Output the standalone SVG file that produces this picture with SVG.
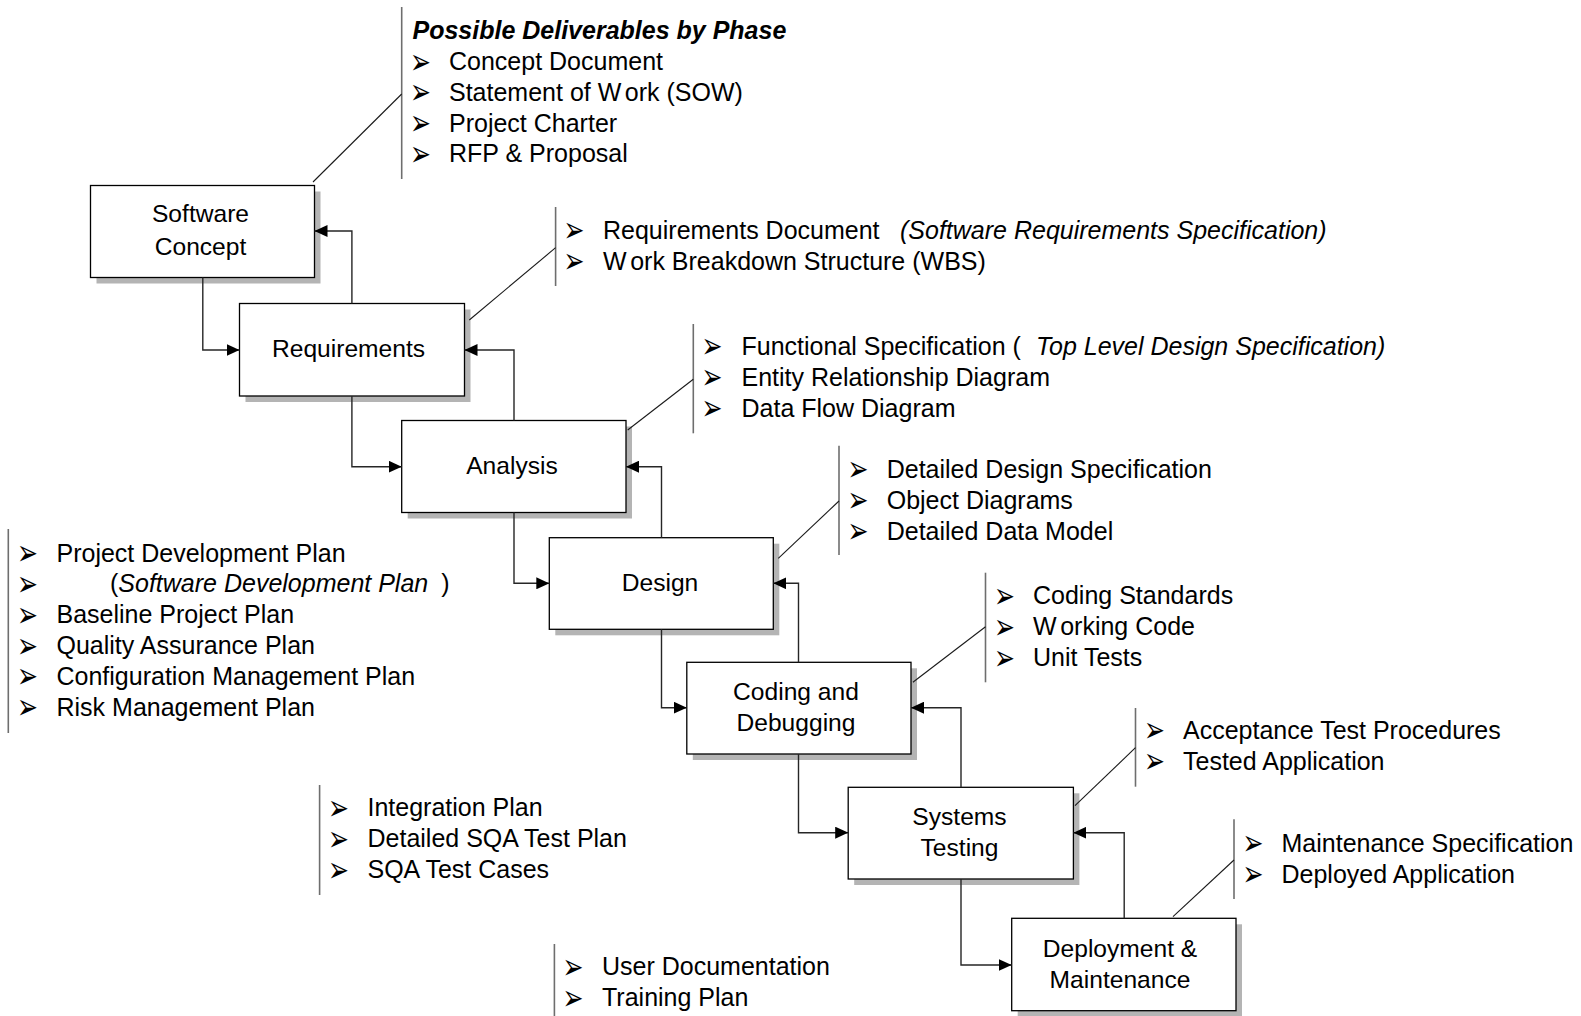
<svg xmlns="http://www.w3.org/2000/svg" width="1581" height="1016" viewBox="0 0 1581 1016">
  <style>
    .shadow { fill: #b4b4b4; }
    .box { fill: #ffffff; stroke: #000000; stroke-width: 1.3; }
    .lbl { font-family: "Liberation Sans", Arial, sans-serif; font-size: 24.6px; text-anchor: middle; fill: #000; }
    .item { font-family: "Liberation Sans", Arial, sans-serif; font-size: 25px; fill: #000; }
    .it { font-style: italic; }
    .head { font-weight: bold; font-style: italic; }
    .bul { font-family: "DejaVu Sans", sans-serif; font-size: 25px; fill: #000; }
    .bar { stroke: #6e6e6e; stroke-width: 1.6; fill: none; }
    .lead { stroke: #1a1a1a; stroke-width: 1.1; fill: none; }
    .conn { fill: none; stroke: #262626; stroke-width: 1.4; marker-end: url(#ah); }
  </style>
  <defs>
    <marker id="ah" markerUnits="userSpaceOnUse" viewBox="0 0 13 12" refX="13" refY="6" markerWidth="13" markerHeight="12" orient="auto">
      <path d="M0,0 L13,6 L0,12 Z" fill="#000"/>
    </marker>
    <!-- bullet glyph, stretched a little taller than the font draws it -->
    <text id="b" class="bul" transform="translate(0,3.6) scale(1,1.45)">➢</text>
  </defs>

  <rect width="1581" height="1016" fill="#ffffff"/>

  <!-- phase boxes -->
  <g id="software-concept">
    <rect class="shadow" x="96.5" y="191.5" width="224" height="92"/>
    <rect class="box" x="90.5" y="185.5" width="224" height="92"/>
    <text class="lbl" x="200.5" y="222">Software</text>
    <text class="lbl" x="200.5" y="255">Concept</text>
  </g>
  <g id="requirements">
    <rect class="shadow" x="245.5" y="309.5" width="225" height="92.5"/>
    <rect class="box" x="239.5" y="303.5" width="225" height="92.5"/>
    <text class="lbl" x="348.5" y="357">Requirements</text>
  </g>
  <g id="analysis">
    <rect class="shadow" x="407.7" y="426.5" width="224.3" height="92"/>
    <rect class="box" x="401.7" y="420.5" width="224.3" height="92"/>
    <text class="lbl" x="512" y="474">Analysis</text>
  </g>
  <g id="design">
    <rect class="shadow" x="555.3" y="543.7" width="224" height="91.6"/>
    <rect class="box" x="549.3" y="537.7" width="224" height="91.6"/>
    <text class="lbl" x="660" y="591">Design</text>
  </g>
  <g id="coding">
    <rect class="shadow" x="692.8" y="668.3" width="224.2" height="91.7"/>
    <rect class="box" x="686.8" y="662.3" width="224.2" height="91.7"/>
    <text class="lbl" x="796" y="700">Coding and</text>
    <text class="lbl" x="796" y="731">Debugging</text>
  </g>
  <g id="systems-testing">
    <rect class="shadow" x="854.2" y="793.3" width="225.2" height="91.7"/>
    <rect class="box" x="848.2" y="787.3" width="225.2" height="91.7"/>
    <text class="lbl" x="959.5" y="824.5">Systems</text>
    <text class="lbl" x="959.5" y="855.5">Testing</text>
  </g>
  <g id="deployment">
    <rect class="shadow" x="1017.7" y="924.3" width="224.3" height="92.4"/>
    <rect class="box" x="1011.7" y="918.3" width="224.3" height="92.4"/>
    <text class="lbl" x="1120" y="956.5">Deployment &amp;</text>
    <text class="lbl" x="1120" y="987.5">Maintenance</text>
  </g>

  <!-- flow connectors: forward (down) and feedback (up) -->
  <g id="connectors">
    <path class="conn" d="M202.8,277.5 V350 H239.5"/>
    <path class="conn" d="M351.9,303.5 V231 H314.5"/>
    <path class="conn" d="M351.9,396 V466.7 H401.7"/>
    <path class="conn" d="M514,420.5 V350 H464.5"/>
    <path class="conn" d="M514,512.5 V583.3 H549.3"/>
    <path class="conn" d="M661.5,537.7 V466.7 H626"/>
    <path class="conn" d="M661.5,629.3 V707.7 H686.8"/>
    <path class="conn" d="M798.5,662.3 V583.3 H773.3"/>
    <path class="conn" d="M798.5,754 V832.7 H848.2"/>
    <path class="conn" d="M961,787.3 V707.7 H911"/>
    <path class="conn" d="M961,879 V965 H1011.7"/>
    <path class="conn" d="M1124.2,918.3 V832.7 H1073.4"/>
  </g>

  <!-- deliverables: concept phase -->
  <g id="deliverables-concept">
    <line class="bar" x1="401.7" y1="7" x2="401.7" y2="179"/>
    <line class="lead" x1="313" y1="182" x2="401.7" y2="94"/>
    <text class="item head" x="412.5" y="38.5">Possible Deliverables by Phase</text>
    <use href="#b" x="410" y="70"/>
    <use href="#b" x="410" y="100.8"/>
    <use href="#b" x="410" y="131.6"/>
    <use href="#b" x="410" y="162.4"/>
    <text class="item" x="449" y="70">Concept Document</text>
    <text class="item" x="449" y="100.8">Statement of W<tspan dx="4">ork (SOW)</tspan></text>
    <text class="item" x="449" y="131.6">Project Charter</text>
    <text class="item" x="449" y="162.4">RFP &amp; Proposal</text>
  </g>

  <!-- deliverables: requirements -->
  <g id="deliverables-requirements">
    <line class="bar" x1="555.6" y1="207" x2="555.6" y2="286"/>
    <line class="lead" x1="469.3" y1="320" x2="555.6" y2="247.7"/>
    <use href="#b" x="563.5" y="238.5"/>
    <use href="#b" x="563.5" y="269.5"/>
    <text class="item" x="603" y="238.5">Requirements Document</text>
    <text class="item it" x="900" y="238.5">(Software Requirements Specification)</text>
    <text class="item" x="603" y="269.5">W<tspan dx="4">ork Breakdown Structure (WBS)</tspan></text>
  </g>

  <!-- deliverables: analysis -->
  <g id="deliverables-analysis">
    <line class="bar" x1="693.3" y1="324" x2="693.3" y2="433.3"/>
    <line class="lead" x1="627.7" y1="430" x2="693.3" y2="379.3"/>
    <use href="#b" x="701.5" y="354.8"/>
    <use href="#b" x="701.5" y="385.8"/>
    <use href="#b" x="701.5" y="416.8"/>
    <text class="item" x="741.5" y="354.8">Functional Specification (</text>
    <text class="item it" x="1036" y="354.8">Top Level Design Specification)</text>
    <text class="item" x="741.5" y="385.8">Entity Relationship Diagram</text>
    <text class="item" x="741.5" y="416.8">Data Flow Diagram</text>
  </g>

  <!-- deliverables: design -->
  <g id="deliverables-design">
    <line class="bar" x1="839" y1="445.7" x2="839" y2="555"/>
    <line class="lead" x1="778.3" y1="558.3" x2="839" y2="501"/>
    <use href="#b" x="847.5" y="477.5"/>
    <use href="#b" x="847.5" y="508.5"/>
    <use href="#b" x="847.5" y="539.5"/>
    <text class="item" x="886.7" y="477.5">Detailed Design Specification</text>
    <text class="item" x="886.7" y="508.5">Object Diagrams</text>
    <text class="item" x="886.7" y="539.5">Detailed Data Model</text>
  </g>

  <!-- deliverables: coding -->
  <g id="deliverables-coding">
    <line class="bar" x1="985.5" y1="572.7" x2="985.5" y2="682.3"/>
    <line class="lead" x1="912.9" y1="682.3" x2="985.5" y2="626.7"/>
    <use href="#b" x="994" y="604"/>
    <use href="#b" x="994" y="635"/>
    <use href="#b" x="994" y="666"/>
    <text class="item" x="1033" y="604">Coding Standards</text>
    <text class="item" x="1033" y="635">W<tspan dx="4">orking Code</tspan></text>
    <text class="item" x="1033" y="666">Unit Tests</text>
  </g>

  <!-- deliverables: systems testing -->
  <g id="deliverables-testing">
    <line class="bar" x1="1135.5" y1="708" x2="1135.5" y2="786.7"/>
    <line class="lead" x1="1075" y1="805.7" x2="1135.5" y2="747.7"/>
    <use href="#b" x="1144" y="738.8"/>
    <use href="#b" x="1144" y="769.8"/>
    <text class="item" x="1183" y="738.8">Acceptance Test Procedures</text>
    <text class="item" x="1183" y="769.8">Tested Application</text>
  </g>

  <!-- deliverables: deployment -->
  <g id="deliverables-deployment">
    <line class="bar" x1="1234" y1="819.3" x2="1234" y2="899"/>
    <line class="lead" x1="1173" y1="916.7" x2="1234" y2="860"/>
    <use href="#b" x="1242.5" y="851.5"/>
    <use href="#b" x="1242.5" y="882.5"/>
    <text class="item" x="1281.5" y="851.5">Maintenance Specification</text>
    <text class="item" x="1281.5" y="882.5">Deployed Application</text>
  </g>

  <!-- planning documents -->
  <g id="deliverables-plans">
    <line class="bar" x1="8.3" y1="529" x2="8.3" y2="733"/>
    <use href="#b" x="17" y="561.5"/>
    <use href="#b" x="17" y="592.3"/>
    <use href="#b" x="17" y="623.1"/>
    <use href="#b" x="17" y="653.9"/>
    <use href="#b" x="17" y="684.7"/>
    <use href="#b" x="17" y="715.5"/>
    <text class="item" x="56.5" y="561.5">Project Development Plan</text>
    <text class="item" x="110" y="592.3">(<tspan class="it">Software Development Plan</tspan><tspan dx="6"> )</tspan></text>
    <text class="item" x="56.5" y="623.1">Baseline Project Plan</text>
    <text class="item" x="56.5" y="653.9">Quality Assurance Plan</text>
    <text class="item" x="56.5" y="684.7">Configuration Management Plan</text>
    <text class="item" x="56.5" y="715.5">Risk Management Plan</text>
  </g>

  <!-- test planning documents -->
  <g id="deliverables-test-plans">
    <line class="bar" x1="319.6" y1="785" x2="319.6" y2="895"/>
    <use href="#b" x="328" y="816.3"/>
    <use href="#b" x="328" y="847.1"/>
    <use href="#b" x="328" y="877.9"/>
    <text class="item" x="367.5" y="816.3">Integration Plan</text>
    <text class="item" x="367.5" y="847.1">Detailed SQA Test Plan</text>
    <text class="item" x="367.5" y="877.9">SQA Test Cases</text>
  </g>

  <!-- user-facing documents -->
  <g id="deliverables-user">
    <line class="bar" x1="554.4" y1="944" x2="554.4" y2="1016"/>
    <use href="#b" x="562.5" y="975"/>
    <use href="#b" x="562.5" y="1006"/>
    <text class="item" x="602" y="975">User Documentation</text>
    <text class="item" x="602" y="1006">Training Plan</text>
  </g>
</svg>
